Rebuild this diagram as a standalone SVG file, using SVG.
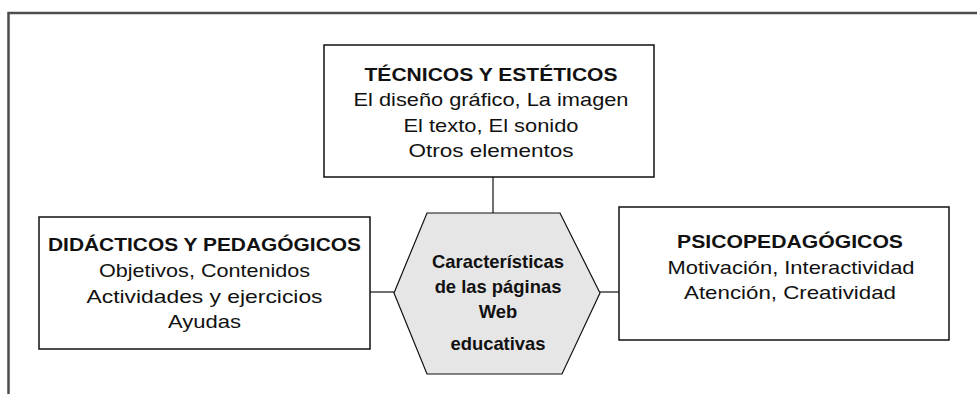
<svg xmlns="http://www.w3.org/2000/svg" width="977" height="394" viewBox="0 0 977 394">
<style>
.frame{fill:none;stroke:#4d4d4d;stroke-width:2.5}
.box{fill:#fff;stroke:#111;stroke-width:1.5}
.hex{fill:#e6e6e6;stroke:#111;stroke-width:1.2}
.conn{fill:none;stroke:#111;stroke-width:1.2}
text{font-family:"Liberation Sans",Arial,sans-serif;fill:#111;text-anchor:middle}
.t{font-weight:bold;font-size:18.5px}
.r{font-size:18.5px}
.h{font-weight:bold;font-size:18.4px}
</style>
<rect width="977" height="394" fill="#fff"/>
<path class="frame" d="M8.5 394 V13 H977"/>
<g id="connectors">
<line class="conn" x1="493" y1="177" x2="493" y2="213"/>
<line class="conn" x1="370" y1="292" x2="394" y2="292"/>
<line class="conn" x1="600" y1="292" x2="619" y2="292"/>
</g>
<g id="tecnicos">
<rect class="box" x="324" y="45" width="330" height="132"/>
<text class="t" x="491" y="81" textLength="253" lengthAdjust="spacingAndGlyphs">TÉCNICOS Y ESTÉTICOS</text>
<text class="r" x="491" y="106" textLength="275" lengthAdjust="spacingAndGlyphs">El diseño gráfico, La imagen</text>
<text class="r" x="491" y="132" textLength="175" lengthAdjust="spacingAndGlyphs">El texto, El sonido</text>
<text class="r" x="491" y="157" textLength="165" lengthAdjust="spacingAndGlyphs">Otros elementos</text>
</g>
<g id="didacticos">
<rect class="box" x="39" y="217" width="331" height="132"/>
<text class="t" x="204.5" y="251" textLength="313" lengthAdjust="spacingAndGlyphs">DIDÁCTICOS Y PEDAGÓGICOS</text>
<text class="r" x="204.5" y="277" textLength="211" lengthAdjust="spacingAndGlyphs">Objetivos, Contenidos</text>
<text class="r" x="204.5" y="303" textLength="236" lengthAdjust="spacingAndGlyphs">Actividades y ejercicios</text>
<text class="r" x="204.5" y="328" textLength="73" lengthAdjust="spacingAndGlyphs">Ayudas</text>
</g>
<g id="psicopedagogicos">
<rect class="box" x="619" y="207" width="330" height="133"/>
<text class="t" x="790" y="248" textLength="226" lengthAdjust="spacingAndGlyphs">PSICOPEDAGÓGICOS</text>
<text class="r" x="791" y="274" textLength="247" lengthAdjust="spacingAndGlyphs">Motivación, Interactividad</text>
<text class="r" x="790" y="299" textLength="212" lengthAdjust="spacingAndGlyphs">Atención, Creatividad</text>
</g>
<g id="caracteristicas">
<polygon class="hex" points="427,213 560,213 600,293 562,374 427,374 394,293"/>
<text class="h" x="498" y="268">Características</text>
<text class="h" x="498" y="293">de las páginas</text>
<text class="h" x="498" y="318">Web</text>
<text class="h" x="498" y="350">educativas</text>
</g>
</svg>
